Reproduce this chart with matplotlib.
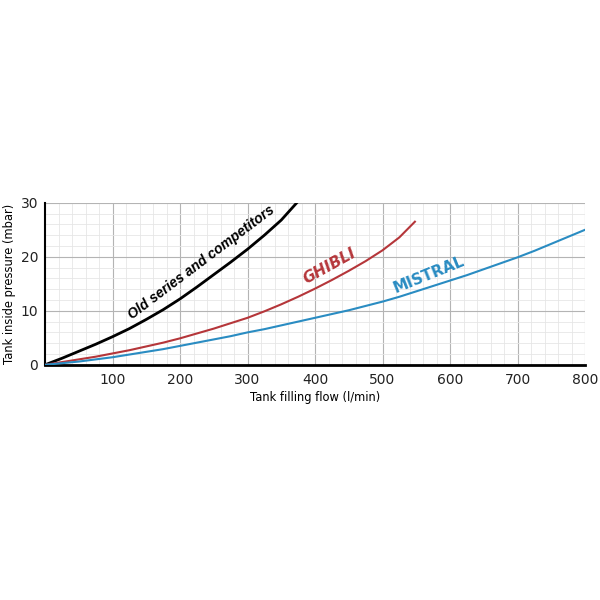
import matplotlib
matplotlib.use("Agg")
import matplotlib.pyplot as plt
from matplotlib.ticker import MultipleLocator

# values (l/min -> mbar)
flow_old = [0, 25, 50, 75, 100, 125, 150, 175, 200, 225, 250, 275, 300,
            325, 350, 373]
p_old = [0, 1.2, 2.5, 3.8, 5.2, 6.7, 8.4, 10.2, 12.2, 14.4, 16.7, 19.0,
         21.4, 24.0, 26.8, 30.0]

flow_ghibli = [0, 25, 50, 75, 100, 125, 150, 175, 200, 225, 250, 275, 300,
               325, 350, 375, 400, 425, 450, 475, 500, 525, 548]
p_ghibli = [0, 0.5, 1.0, 1.5, 2.1, 2.7, 3.4, 4.1, 4.9, 5.8, 6.7, 7.7, 8.7,
            9.9, 11.2, 12.6, 14.1, 15.7, 17.4, 19.2, 21.2, 23.6, 26.5]

flow_mistral = [0, 25, 50, 75, 100, 125, 150, 175, 200, 225, 250, 275, 300,
                325, 350, 375, 400, 425, 450, 475, 500, 525, 550, 575, 600,
                625, 650, 675, 700, 725, 750, 775, 800]
p_mistral = [0, 0.3, 0.6, 1.0, 1.4, 1.9, 2.4, 2.9, 3.5, 4.1, 4.7, 5.3, 6.0,
             6.6, 7.3, 8.0, 8.7, 9.4, 10.1, 10.9, 11.7, 12.6, 13.6, 14.6,
             15.6, 16.6, 17.7, 18.8, 19.9, 21.1, 22.4, 23.7, 25.0]

x_ticks = [100, 200, 300, 400, 500, 600, 700, 800]
y_ticks = [0, 10, 20, 30]

RED = "#b5363a"
BLUE = "#2a8cc2"

fig = plt.figure(figsize=(6, 6), dpi=100)
ax = fig.add_axes([0.075, 0.392, 0.9, 0.27])

ax.plot(flow_old, p_old, color="black", lw=2, zorder=3)
ax.plot(flow_ghibli, p_ghibli, color=RED, lw=1.5, zorder=3)
ax.plot(flow_mistral, p_mistral, color=BLUE, lw=1.5, zorder=3)

ax.set_xlim(0, 800)
ax.set_ylim(0, 30)
ax.set_xticks(x_ticks)
ax.set_yticks(y_ticks)
ax.xaxis.set_minor_locator(MultipleLocator(20))
ax.yaxis.set_minor_locator(MultipleLocator(2))
ax.grid(which="major", color="#b4b4b4", lw=0.8)
ax.grid(which="minor", color="#e6e6e6", lw=0.6)
ax.set_axisbelow(True)
ax.tick_params(which="both", length=0, labelsize=10, colors="#222222")
ax.tick_params(axis="y", pad=5)
ax.tick_params(axis="x", pad=6)

for side in ["top", "right"]:
    ax.spines[side].set_visible(False)
ax.spines["bottom"].set_linewidth(2)
ax.spines["left"].set_linewidth(1.5)

ax.set_xlabel("Tank filling flow (l/min)", fontsize=8.3, labelpad=3)
ax.set_ylabel("Tank inside pressure (mbar)", fontsize=8.3, labelpad=3)

ax.text(232, 18.9, "Old series and competitors", rotation=37,
        ha="center", va="center", fontsize=10, fontweight="bold",
        fontstyle="italic", family="Liberation Sans", color="black")
ax.text(421, 18.2, "GHIBLI", rotation=29, ha="center", va="center",
        fontsize=11, fontweight="bold", fontstyle="italic", color=RED)
ax.text(568, 16.7, "MISTRAL", rotation=22, ha="center", va="center",
        fontsize=11, fontweight="bold", color=BLUE)

fig.savefig("out.png", dpi=100)
